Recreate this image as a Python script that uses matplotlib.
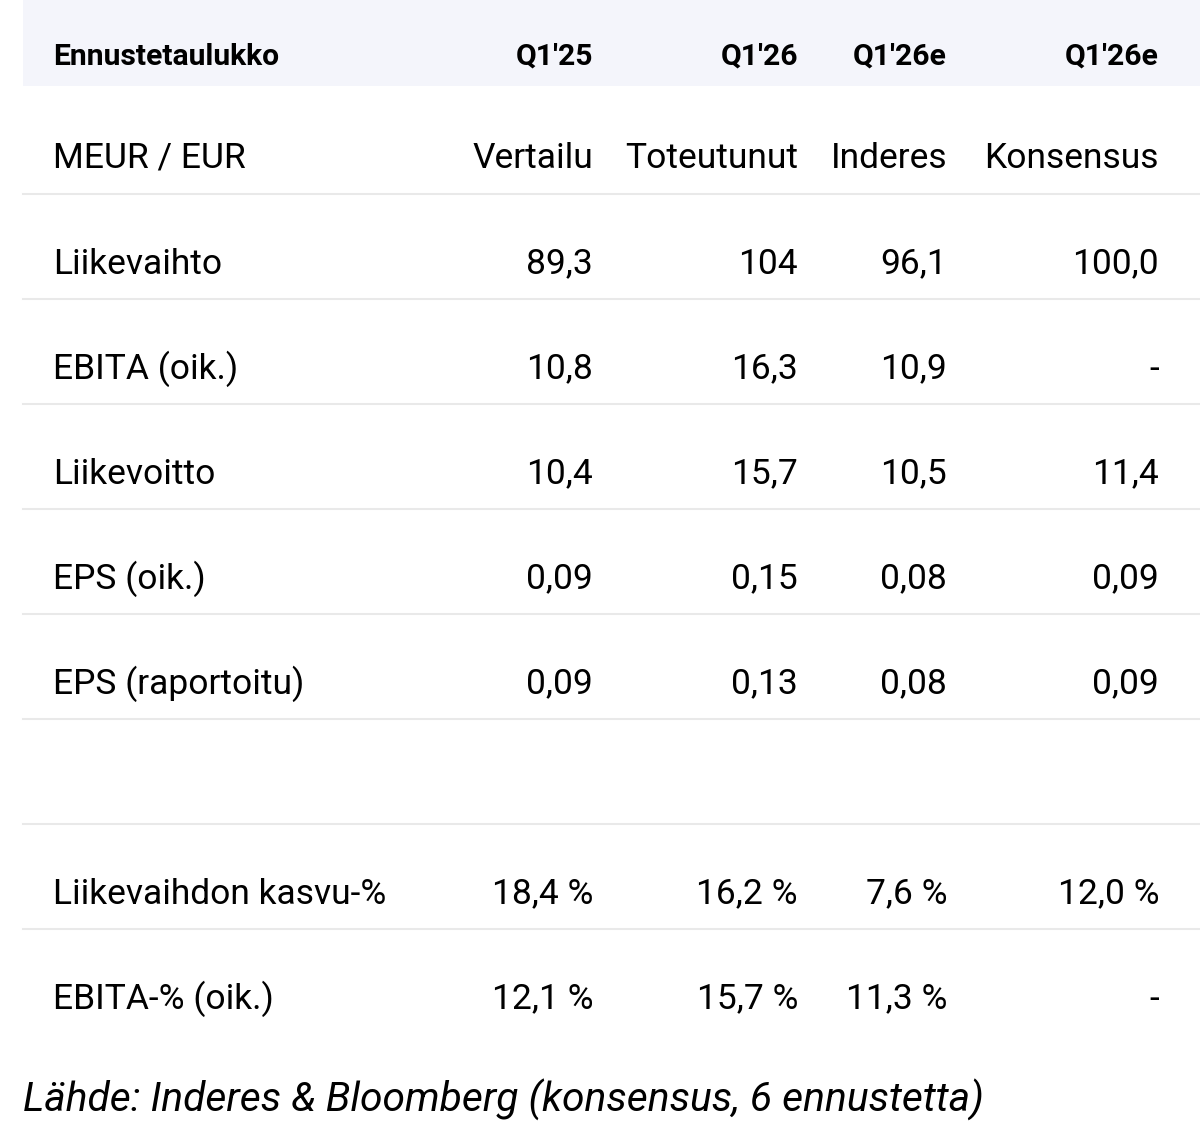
import matplotlib
matplotlib.use('Agg')
import matplotlib.pyplot as plt

# table content
title = 'Ennustetaulukko'
periods = ["Q1'25", "Q1'26", "Q1'26e", "Q1'26e"]
unit_label = 'MEUR / EUR'
col_labels = ['Vertailu', 'Toteutunut', 'Inderes', 'Konsensus']
row_labels = ['Liikevaihto', 'EBITA (oik.)', 'Liikevoitto', 'EPS (oik.)',
              'EPS (raportoitu)', '', 'Liikevaihdon kasvu-%', 'EBITA-% (oik.)']
vertailu = ['89,3', '10,8', '10,4', '0,09', '0,09', '', '18,4 %', '12,1 %']
toteutunut = ['104', '16,3', '15,7', '0,15', '0,13', '', '16,2 %', '15,7 %']
inderes = ['96,1', '10,9', '10,5', '0,08', '0,08', '', '7,6 %', '11,3 %']
konsensus = ['100,0', '-', '11,4', '0,09', '0,09', '', '12,0 %', '-']
source = 'Lähde: Inderes & Bloomberg (konsensus, 6 ennustetta)'

W, H = 1200, 1133
fig = plt.figure(figsize=(W / 100, H / 100), dpi=100)
ax = fig.add_axes([0, 0, 1, 1])
ax.set_xlim(0, W)
ax.set_ylim(H, 0)
ax.axis('off')

left = 23
label_x = 53
col_right = [593, 798, 947, 1159]
body_font = 'Roboto'
fs = 25.5
head_fs = 21.7

# header band
ax.add_patch(plt.Rectangle((left, 0), W - left, 86, color='#f4f5fb', lw=0))
ax.text(label_x, 57, title, fontsize=head_fs, fontweight='bold', family=body_font,
        ha='left', va='center')
for x, p in zip(col_right, periods):
    ax.text(x, 57, p, fontsize=head_fs, fontweight='bold', family=body_font,
            ha='right', va='center')

# sub header
ax.text(label_x, 158, unit_label, fontsize=fs, family=body_font, ha='left', va='center')
for x, c in zip(col_right, col_labels):
    ax.text(x, 158, c, fontsize=fs, family=body_font, ha='right', va='center')
ax.plot([left, W], [194, 194], color='#e9e9e9', lw=1.5)

columns = [vertailu, toteutunut, inderes, konsensus]
row_h = 105
for i, name in enumerate(row_labels):
    line_y = 194 + row_h * (i + 1)
    yc = line_y - 35
    ax.text(label_x, yc, name, fontsize=fs, family=body_font, ha='left', va='center')
    for x, col in zip(col_right, columns):
        ax.text(x, yc, col[i], fontsize=fs, family=body_font, ha='right', va='center')
    if i < len(row_labels) - 1:
        ax.plot([left, W], [line_y] * 2, color='#e9e9e9', lw=1.5)

ax.text(left, 1100, source, fontsize=29.3, style='italic', family=body_font,
        ha='left', va='center')

fig.savefig('out.png', dpi=100)
